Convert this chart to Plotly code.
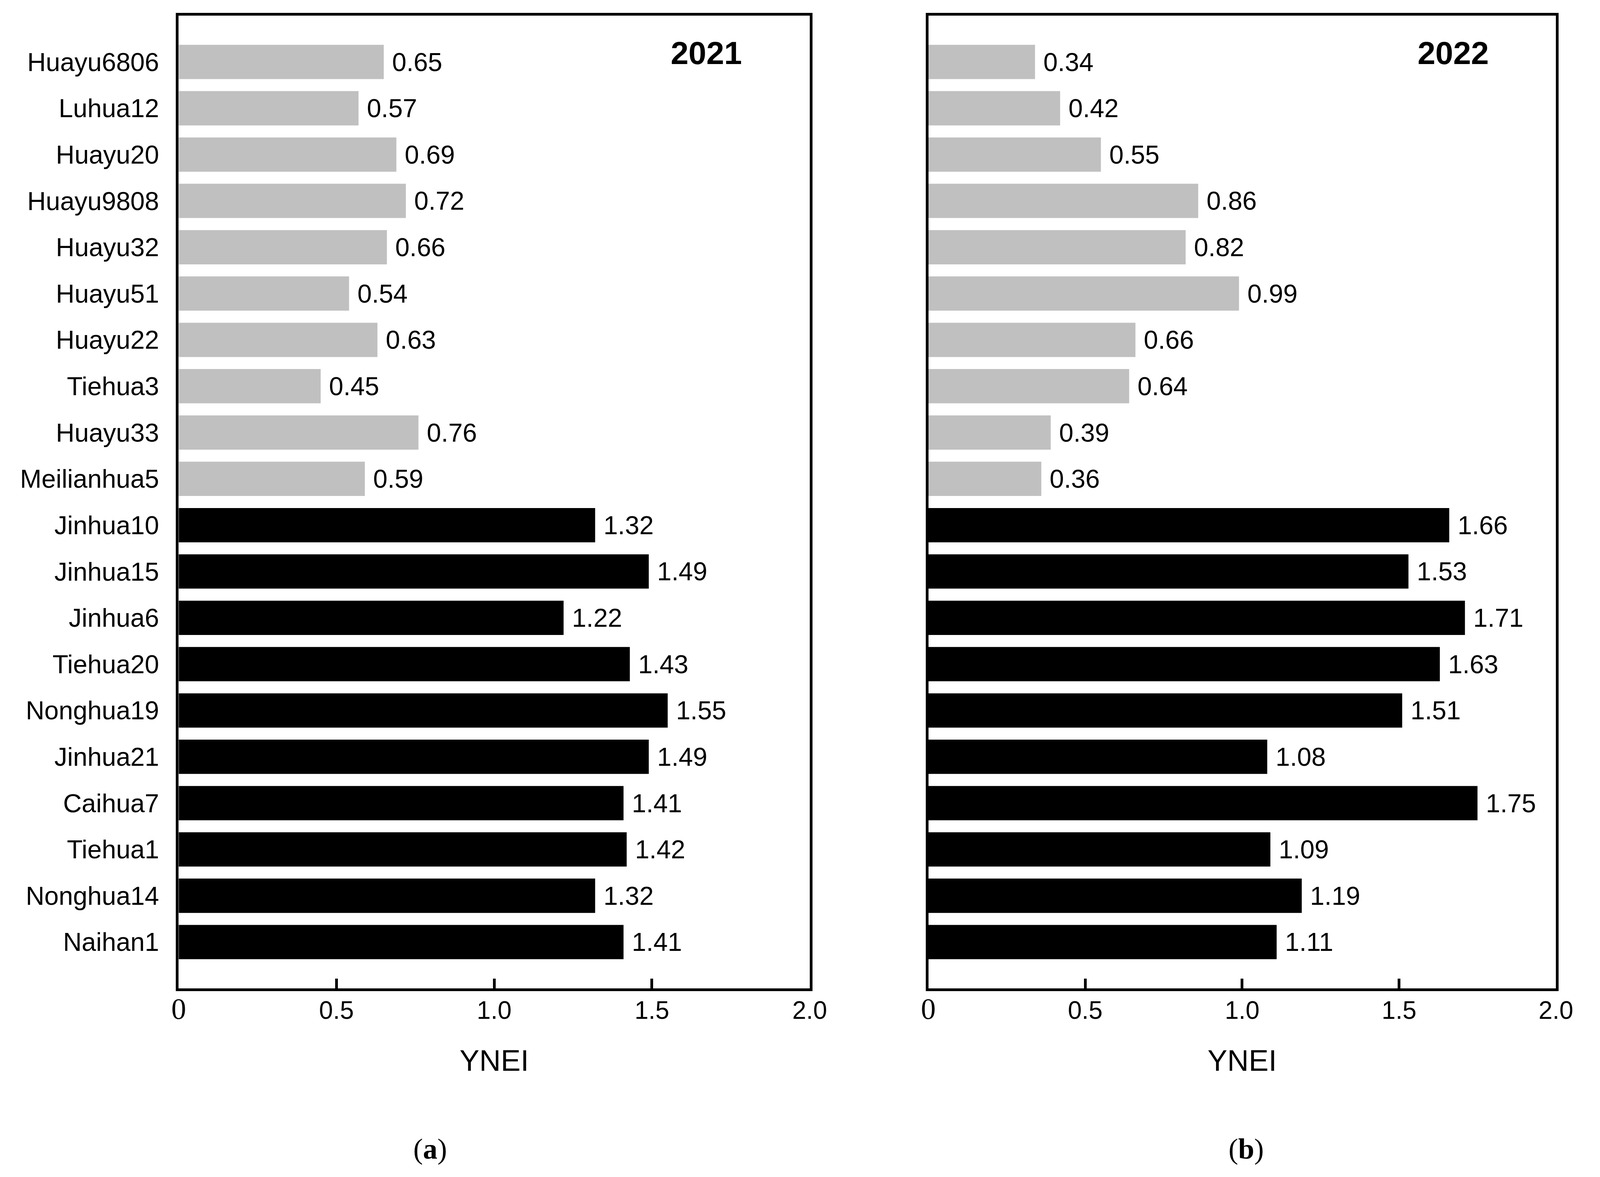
import plotly.graph_objects as go

cultivars = ["Huayu6806", "Luhua12", "Huayu20", "Huayu9808", "Huayu32", "Huayu51",
             "Huayu22", "Tiehua3", "Huayu33", "Meilianhua5", "Jinhua10", "Jinhua15",
             "Jinhua6", "Tiehua20", "Nonghua19", "Jinhua21", "Caihua7", "Tiehua1",
             "Nonghua14", "Naihan1"]
ynei_2021 = [0.65, 0.57, 0.69, 0.72, 0.66, 0.54, 0.63, 0.45, 0.76, 0.59,
             1.32, 1.49, 1.22, 1.43, 1.55, 1.49, 1.41, 1.42, 1.32, 1.41]
ynei_2022 = [0.34, 0.42, 0.55, 0.86, 0.82, 0.99, 0.66, 0.64, 0.39, 0.36,
             1.66, 1.53, 1.71, 1.63, 1.51, 1.08, 1.75, 1.09, 1.19, 1.11]
group = ["low"] * 10 + ["high"] * 10
years = ["2021", "2022"]
panel_labels = ["a", "b"]
x_tickvals = [0, 0.5, 1.0, 1.5, 2.0]
x_ticktext = ['<span style="font-family:Liberation Serif;font-size:76px">0</span>',
              "0.5", "1.0", "1.5", "2.0"]

color_map = {"low": "#C0C0C0", "high": "#000000"}
colors = [color_map[g] for g in group]
FONT = "Liberation Sans, Arial, sans-serif"

fig = go.Figure()
for i, vals in enumerate([ynei_2021, ynei_2022]):
    xa = "x" if i == 0 else "x2"
    ya = "y" if i == 0 else "y2"
    fig.add_trace(go.Bar(
        x=vals, y=cultivars, orientation="h",
        marker=dict(color=colors, line=dict(width=0)),
        text=["\u00a0" + f"{v:.2f}" for v in vals],
        textposition="outside", constraintext="none", cliponaxis=False,
        textfont=dict(family=FONT, size=66, color="black"),
        xaxis=xa, yaxis=ya, showlegend=False, hoverinfo="skip",
    ))

ydom = [1 - 2531 / 3014, 1 - 40 / 3014]
xdoms = [[459 / 4222, 2150 / 4222], [2468 / 4222, 4150 / 4222]]

axis_common = dict(showline=True, mirror=True, linecolor="black", linewidth=7,
                   showgrid=False, zeroline=False)
for i in range(2):
    sfx = "" if i == 0 else "2"
    fig.layout["xaxis" + sfx] = dict(
        domain=xdoms[i], range=[0, 2], anchor="y" + sfx,
        tickmode="array", tickvals=x_tickvals, ticktext=x_ticktext,
        ticks="inside", ticklen=25, tickwidth=7, tickcolor="black",
        ticklabelstandoff=-6,
        tickfont=dict(family=FONT, size=64, color="black"),
        title=dict(text="YNEI", font=dict(family=FONT, size=76, color="black"), standoff=68),
        **axis_common)
    fig.layout["yaxis" + sfx] = dict(
        domain=ydom, range=[20, -1], anchor="x" + sfx,
        type="category", categoryorder="array", categoryarray=cultivars,
        ticks="", showticklabels=(i == 0), ticklabelstandoff=30,
        tickfont=dict(family=FONT, size=66, color="black"),
        **axis_common)
    xd = "x domain" if i == 0 else "x2 domain"
    fig.add_annotation(text="<b>" + years[i] + "</b>", xref=xd, yref="paper",
                       x=0.836, y=1 - 135 / 3014, showarrow=False,
                       xanchor="center", yanchor="middle",
                       font=dict(family=FONT, size=82, color="black"))
    fig.add_annotation(text="(<b>" + panel_labels[i] + "</b>)", xref="paper", yref="paper",
                       x=[1133 / 4222, 3320 / 4222][i], y=1 - 2942 / 3014, showarrow=False,
                       xanchor="center", yanchor="middle",
                       font=dict(family="Liberation Serif, Times New Roman, serif", size=74, color="black"))

fig.update_layout(width=4222, height=3014, margin=dict(l=0, r=0, t=0, b=0),
                  paper_bgcolor="white", plot_bgcolor="white", bargap=0.26)
fig.write_html("out.html",
               config={"displayModeBar": False},
               post_script="document.body.style.margin='0';"
                           "document.body.style.overflow='hidden';"
                           "document.documentElement.style.overflow='hidden';"
                           "var gd=document.getElementById('{plot_id}');"
                           "Plotly.relayout(gd,{width:window.innerWidth,height:window.innerHeight});")
